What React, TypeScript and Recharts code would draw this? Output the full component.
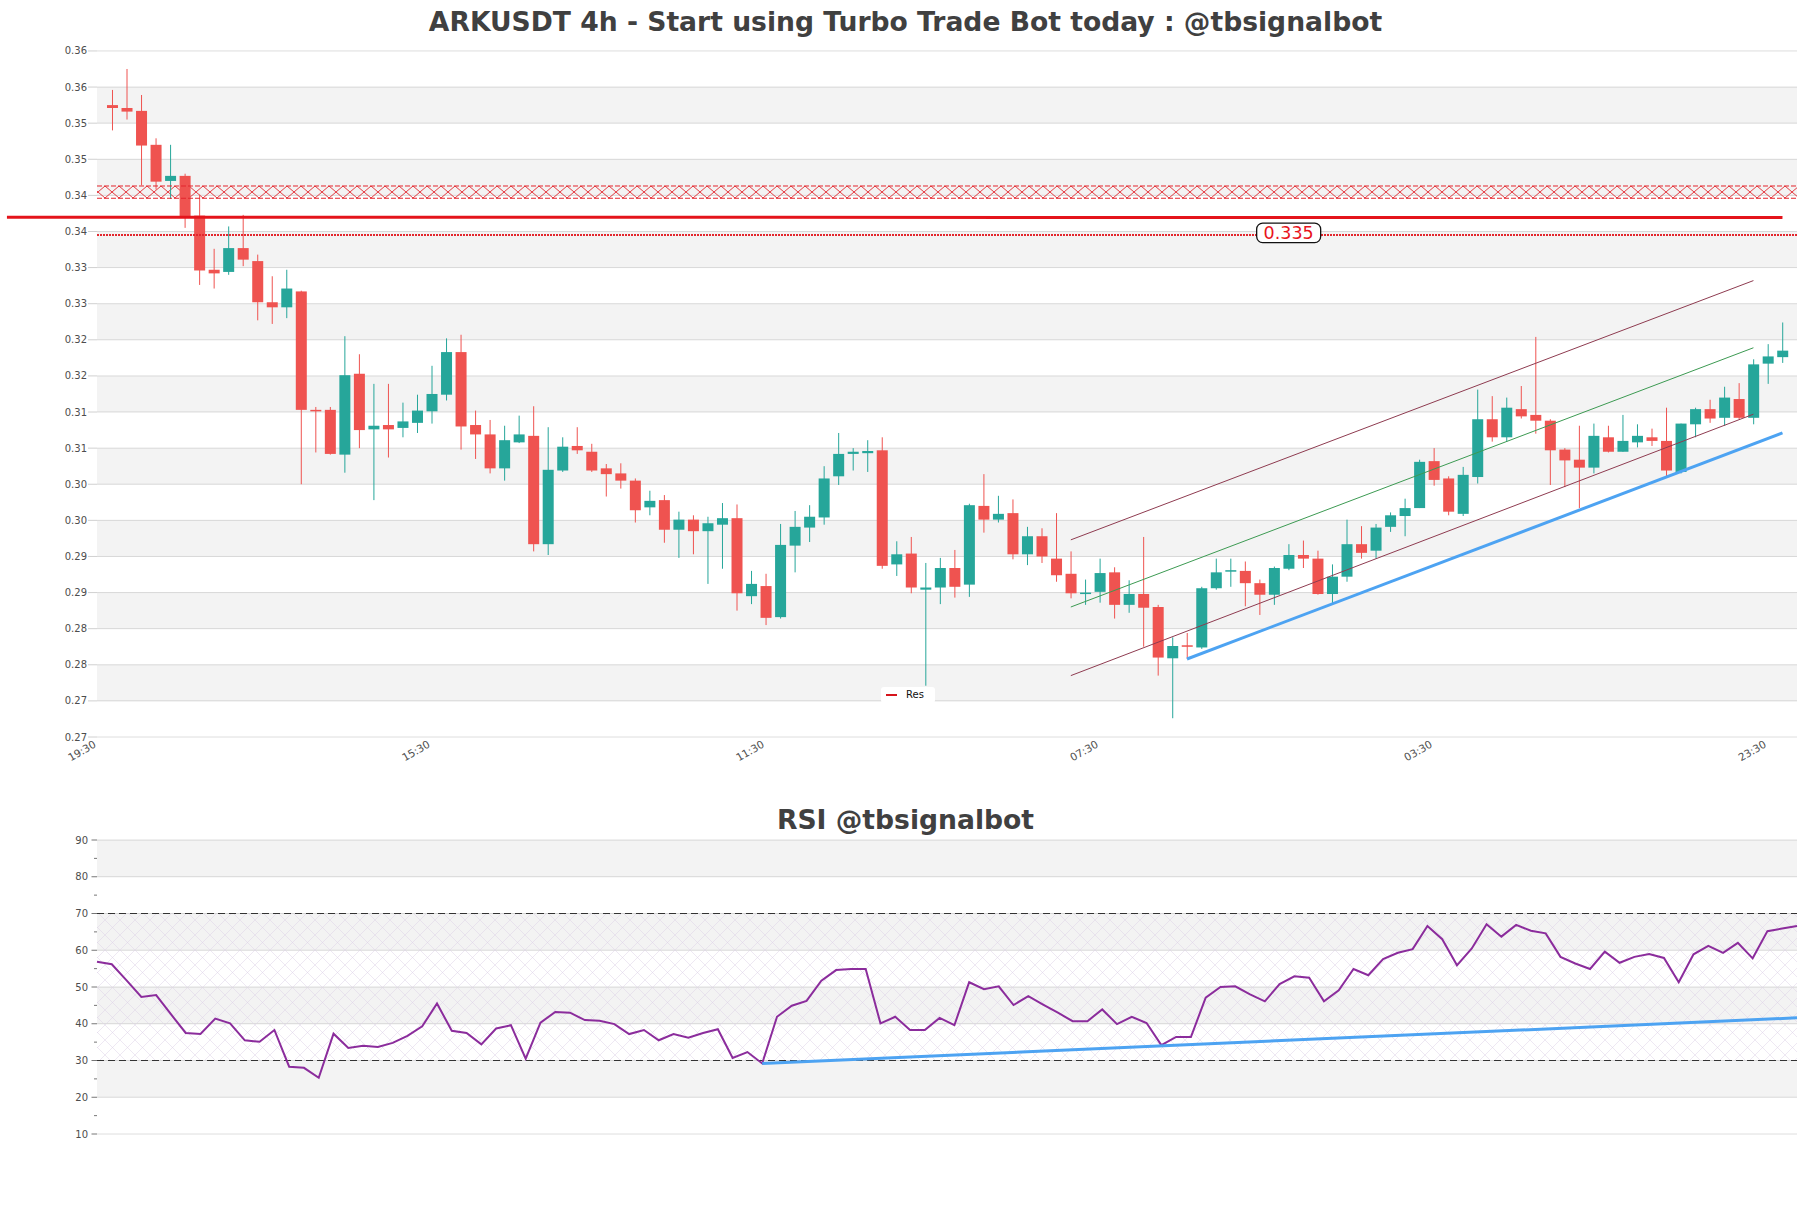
import React from 'react';
import {
  ComposedChart,
  Bar,
  Line,
  XAxis,
  YAxis,
  CartesianGrid,
  ReferenceLine,
  ReferenceArea,
  ReferenceDot,
} from 'recharts';

const FONT = '"DejaVu Sans", Verdana, sans-serif';
const UP = '#26a69a';
const DOWN = '#ef5350';

// 4h candles
const opens = [
  0.3530, 0.3526, 0.3522, 0.3475, 0.3425, 0.3432, 0.3377, 0.3302, 0.3299, 0.3332,
  0.3314, 0.3257, 0.3250, 0.3272, 0.3108, 0.3108, 0.3046, 0.3158, 0.3081, 0.3087,
  0.3083, 0.3090, 0.3106, 0.3129, 0.3188, 0.3087, 0.3074, 0.3027, 0.3063, 0.3072,
  0.2922, 0.3024, 0.3058, 0.3050, 0.3027, 0.3020, 0.3010, 0.2973, 0.2983, 0.2942,
  0.2956, 0.2940, 0.2949, 0.2958, 0.2850, 0.2864, 0.2821, 0.2920, 0.2945, 0.2959,
  0.3016, 0.3047, 0.3048, 0.3052, 0.2894, 0.2909, 0.2859, 0.2862, 0.2889, 0.2866,
  0.2975, 0.2956, 0.2965, 0.2908, 0.2933, 0.2902, 0.2881, 0.2854, 0.2856, 0.2883,
  0.2838, 0.2853, 0.2835, 0.2764, 0.2782, 0.2779, 0.2861, 0.2885, 0.2885, 0.2868,
  0.2852, 0.2888, 0.2907, 0.2902, 0.2853, 0.2877, 0.2922, 0.2913, 0.2946, 0.2961,
  0.2972, 0.3037, 0.3013, 0.2964, 0.3015, 0.3095, 0.3070, 0.3109, 0.3101, 0.3093,
  0.3053, 0.3039, 0.3028, 0.3070, 0.3050, 0.3063, 0.3070, 0.3065, 0.3022, 0.3088,
  0.3109, 0.3097, 0.3123, 0.3097, 0.3172, 0.3181,
];
const highs = [
  0.3551, 0.3580, 0.3544, 0.3484, 0.3475, 0.3435, 0.3406, 0.3331, 0.3362, 0.3378,
  0.3323, 0.3293, 0.3302, 0.3273, 0.3112, 0.3112, 0.3210, 0.3185, 0.3144, 0.3144,
  0.3118, 0.3129, 0.3169, 0.3207, 0.3212, 0.3107, 0.3094, 0.3086, 0.3100, 0.3113,
  0.3084, 0.3070, 0.3084, 0.3061, 0.3033, 0.3034, 0.3013, 0.2996, 0.2990, 0.2967,
  0.2962, 0.2960, 0.2979, 0.2977, 0.2885, 0.2881, 0.2950, 0.2968, 0.2976, 0.3030,
  0.3076, 0.3055, 0.3066, 0.3070, 0.2926, 0.2932, 0.2896, 0.2903, 0.2914, 0.2978,
  0.3019, 0.2989, 0.2984, 0.2946, 0.2944, 0.2965, 0.2912, 0.2873, 0.2902, 0.2890,
  0.2872, 0.2932, 0.2838, 0.2793, 0.2799, 0.2863, 0.2902, 0.2902, 0.2898, 0.2873,
  0.2891, 0.2922, 0.2927, 0.2913, 0.2894, 0.2956, 0.2947, 0.2950, 0.2966, 0.2985,
  0.3039, 0.3055, 0.3016, 0.3029, 0.3136, 0.3127, 0.3125, 0.3141, 0.3209, 0.3095,
  0.3055, 0.3086, 0.3089, 0.3086, 0.3101, 0.3088, 0.3082, 0.3111, 0.3089, 0.3111,
  0.3122, 0.3140, 0.3145, 0.3178, 0.3199, 0.3229,
];
const lows = [
  0.3495, 0.3510, 0.3419, 0.3413, 0.3400, 0.3360, 0.3281, 0.3276, 0.3295, 0.3307,
  0.3232, 0.3227, 0.3235, 0.3005, 0.3049, 0.3046, 0.3021, 0.3055, 0.2983, 0.3042,
  0.3070, 0.3076, 0.3089, 0.3121, 0.3053, 0.3040, 0.3020, 0.3010, 0.3062, 0.2912,
  0.2907, 0.3022, 0.3047, 0.3022, 0.2988, 0.2999, 0.2952, 0.2962, 0.2924, 0.2903,
  0.2908, 0.2867, 0.2888, 0.2830, 0.2839, 0.2810, 0.2819, 0.2883, 0.2925, 0.2949,
  0.3004, 0.3024, 0.3022, 0.2888, 0.2878, 0.2854, 0.2726, 0.2839, 0.2848, 0.2849,
  0.2938, 0.2952, 0.2901, 0.2893, 0.2896, 0.2870, 0.2847, 0.2838, 0.2841, 0.2819,
  0.2827, 0.2780, 0.2740, 0.2681, 0.2763, 0.2777, 0.2859, 0.2863, 0.2836, 0.2824,
  0.2838, 0.2886, 0.2889, 0.2852, 0.2839, 0.2870, 0.2902, 0.2902, 0.2939, 0.2933,
  0.2972, 0.3003, 0.2962, 0.2961, 0.3006, 0.3064, 0.3064, 0.3096, 0.3075, 0.3004,
  0.3001, 0.2972, 0.3020, 0.3049, 0.3050, 0.3056, 0.3058, 0.3016, 0.3020, 0.3070,
  0.3090, 0.3086, 0.3095, 0.3088, 0.3144, 0.3173,
];
const closes = [
  0.3526, 0.3521, 0.3474, 0.3424, 0.3432, 0.3376, 0.3301, 0.3297, 0.3332, 0.3316,
  0.3257, 0.3250, 0.3276, 0.3108, 0.3106, 0.3047, 0.3156, 0.3080, 0.3086, 0.3081,
  0.3092, 0.3107, 0.3130, 0.3188, 0.3085, 0.3074, 0.3027, 0.3066, 0.3074, 0.2922,
  0.3025, 0.3057, 0.3052, 0.3024, 0.3019, 0.3010, 0.2969, 0.2982, 0.2942, 0.2956,
  0.2940, 0.2951, 0.2958, 0.2854, 0.2867, 0.2820, 0.2921, 0.2946, 0.2960, 0.3013,
  0.3047, 0.3050, 0.3051, 0.2892, 0.2908, 0.2862, 0.2862, 0.2889, 0.2863, 0.2976,
  0.2956, 0.2964, 0.2908, 0.2933, 0.2905, 0.2879, 0.2854, 0.2855, 0.2882, 0.2838,
  0.2853, 0.2834, 0.2765, 0.2781, 0.2780, 0.2861, 0.2883, 0.2886, 0.2868, 0.2852,
  0.2889, 0.2907, 0.2902, 0.2853, 0.2877, 0.2922, 0.2910, 0.2945, 0.2962, 0.2972,
  0.3036, 0.3011, 0.2967, 0.3018, 0.3095, 0.3070, 0.3111, 0.3099, 0.3093, 0.3052,
  0.3038, 0.3028, 0.3072, 0.3050, 0.3065, 0.3072, 0.3065, 0.3024, 0.3089, 0.3109,
  0.3096, 0.3125, 0.3097, 0.3171, 0.3182, 0.3190,
];

const rsiValues = [
  56.9, 56.2, 51.8, 47.3, 47.8, 42.6, 37.5, 37.2, 41.4, 40.1,
  35.5, 35.1, 38.3, 28.3, 28.0, 25.3, 37.3, 33.4, 34.0, 33.7,
  34.8, 36.7, 39.3, 45.5, 38.1, 37.5, 34.4, 38.7, 39.6, 30.5,
  40.3, 43.2, 43.0, 41.0, 40.8, 39.9, 37.2, 38.3, 35.5, 37.2,
  36.2, 37.5, 38.5, 30.7, 32.3, 29.2, 41.9, 44.9, 46.2, 51.7,
  54.6, 54.9, 54.9, 40.1, 41.9, 38.3, 38.3, 41.6, 39.6, 51.3,
  49.4, 50.2, 45.1, 47.5, 45.2, 43.0, 40.7, 40.7, 43.9, 39.9,
  41.9, 40.2, 34.2, 36.4, 36.4, 47.1, 50.0, 50.2, 48.0, 46.1,
  50.8, 52.9, 52.5, 46.1, 49.1, 54.9, 53.2, 57.6, 59.3, 60.3,
  66.6, 63.0, 55.9, 60.5, 67.1, 63.7, 66.9, 65.3, 64.6, 58.2,
  56.4, 54.9, 59.6, 56.6, 58.2, 59.0, 57.9, 51.3, 58.9, 61.2,
  59.3, 62.0, 57.8, 65.2, 65.9, 66.6,
];

// axes
const priceDomain = [0.2655, 0.3616];
const priceTicks = [
  0.2655, 0.2705, 0.2755, 0.2805, 0.2855, 0.2905, 0.2955, 0.3005, 0.3055, 0.3105,
  0.3155, 0.3205, 0.3255, 0.3305, 0.3355, 0.3405, 0.3455, 0.3505, 0.3555, 0.3605,
];
const priceTickLabels = [
  '0.27', '0.27', '0.28', '0.28', '0.29', '0.29', '0.30', '0.30', '0.31', '0.31',
  '0.32', '0.32', '0.33', '0.33', '0.34', '0.34', '0.35', '0.35', '0.36', '0.36',
];
const timeDomain = [-1.05, 116];
const timeTicks = [-1, 22, 45, 68, 91, 114];
const timeTickLabels = ['19:30', '15:30', '11:30', '07:30', '03:30', '23:30'];
const rsiLabelTicks = [10, 20, 30, 40, 50, 60, 70, 80, 90];
const rsiMinorTicks = [15, 25, 35, 45, 55, 65, 75, 85];

// levels and drawn lines
const resBand = [0.3401, 0.3418];
const resLevel = [-7.25, 0.33748, 115, 0.33742];
const supportLevel = 0.335;
const tagIndex = 81;
const channelUpper = [66, 0.2928, 113, 0.3287];
const channelMid = [66, 0.2835, 113, 0.3194];
const channelLower = [66, 0.2740, 113, 0.3102];
const priceTrend = [74, 0.2763, 115, 0.3076];
const rsiBands = [30, 70];
const rsiTrend = [45, 29.2, 115, 41.6];

const candles = opens.map((open, i) => ({ i, open, high: highs[i], low: lows[i], close: closes[i] }));
const rsiData = rsiValues.map((rsi, i) => ({ i, rsi }));

const Candle = (props: any) => {
  const { x, y, width, height, payload } = props;
  if (!payload || width == null) return null;
  const { open, close, high, low } = payload;
  const color = close >= open ? UP : DOWN;
  const top = Math.min(y, y + height);
  const h = Math.abs(height);
  const span = high - low || 1e-9;
  const px = (v: number) => top + ((high - v) / span) * h;
  const cx = x + width / 2;
  const bTop = px(Math.max(open, close));
  const bBot = px(Math.min(open, close));
  return (
    <g>
      <line x1={cx} x2={cx} y1={top} y2={top + h} stroke={color} strokeWidth={1} />
      <rect x={x} y={bTop} width={width} height={Math.max(bBot - bTop, 1.5)} fill={color} />
    </g>
  );
};

const PriceTick = ({ x, y, payload }: any) => {
  const k = priceTicks.findIndex((t) => Math.abs(t - payload.value) < 1e-7);
  return (
    <text x={x} y={y} dy="0.355em" textAnchor="end" fontSize={10} fill="#4d4d4d" fontFamily={FONT}>
      {priceTickLabels[k]}
    </text>
  );
};

const TimeTick = ({ x, y, payload }: any) => {
  const k = timeTicks.indexOf(payload.value);
  const tx = x - 4;
  return (
    <text
      x={tx}
      y={y}
      dy="0.6em"
      textAnchor="end"
      transform={`rotate(-30 ${tx} ${y})`}
      fontSize={10.5}
      fill="#4d4d4d"
      fontFamily={FONT}
    >
      {timeTickLabels[k]}
    </text>
  );
};

const RsiTick = ({ x, y, payload }: any) => {
  const major = rsiLabelTicks.includes(payload.value);
  return (
    <g>
      <line x1={x + (major ? 3.5 : 6)} x2={x + 9} y1={y} y2={y} stroke="#777" strokeWidth={1} />
      {major && (
        <text x={x} y={y} dy="0.355em" textAnchor="end" fontSize={10} fill="#4d4d4d" fontFamily={FONT}>
          {payload.value}
        </text>
      )}
    </g>
  );
};

const PriceTag = ({ cx, cy }: any) => (
  <g>
    <rect x={cx - 32} y={cy - 12} width={64} height={19.5} rx={6} fill="#fff" stroke="#111" strokeWidth={1.3} />
    <text x={cx} y={cy - 2} dy="0.36em" textAnchor="middle" fontSize={17.5} fill="#e8141c" fontFamily={FONT}>
      {supportLevel.toFixed(3)}
    </text>
  </g>
);

const seg = (s: number[]) => [
  { x: s[0], y: s[1] },
  { x: s[2], y: s[3] },
];

export default function App() {
  const priceStripes = [];
  for (let k = 1; k + 1 < priceTicks.length; k += 2) priceStripes.push([priceTicks[k], priceTicks[k + 1]]);
  const rsiStripes = [];
  for (let k = 1; k + 1 < rsiLabelTicks.length; k += 2) rsiStripes.push([rsiLabelTicks[k], rsiLabelTicks[k + 1]]);
  const rsiTicks = [...rsiLabelTicks, ...rsiMinorTicks].sort((a, b) => a - b);

  return (
    <div style={{ position: 'absolute', left: 0, top: 0, width: 1811, height: 1208, background: '#fff', fontFamily: FONT }}>
      <svg width={0} height={0} style={{ position: 'absolute' }}>
        <defs>
          <pattern id="resHatch" width={14} height={12} patternUnits="userSpaceOnUse">
            <path d="M0,0 L14,12 M0,12 L14,0" stroke="#e3262d" strokeWidth={0.9} fill="none" />
          </pattern>
          <pattern id="rsiHatch" width={15} height={15} patternUnits="userSpaceOnUse">
            <path d="M0,0 L15,15 M0,15 L15,0" stroke="#ddd0e6" strokeWidth={0.5} fill="none" />
          </pattern>
        </defs>
      </svg>

      <div style={{ position: 'absolute', left: 0, top: 7, width: 1811, textAlign: 'center', fontSize: 26.6, lineHeight: '30px', fontWeight: 'bold', color: '#404040' }}>
        ARKUSDT 4h - Start using Turbo Trade Bot today : @tbsignalbot
      </div>

      <div style={{ position: 'absolute', left: 0, top: 0 }}>
        <ComposedChart width={1811} height={790} data={candles} margin={{ top: 43, right: 14, bottom: 3, left: 0 }}>
          {priceStripes.map(([a, b]) => (
            <ReferenceArea key={`s${a}`} y1={a} y2={b} fill="#000" fillOpacity={0.047} stroke="none" />
          ))}
          <CartesianGrid vertical={false} stroke="#dedede" horizontalValues={priceTicks} />
          <ReferenceArea fill="none" stroke="#d6d6d6" />
          <XAxis
            dataKey="i"
            type="number"
            domain={timeDomain}
            ticks={timeTicks}
            interval={0}
            allowDataOverflow
            tick={(p: any) => <TimeTick {...p} />}
            tickLine={false}
            tickSize={0}
            tickMargin={4}
            axisLine={false}
            height={50}
          />
          <YAxis
            type="number"
            domain={priceDomain}
            ticks={priceTicks}
            interval={0}
            allowDataOverflow
            width={97}
            tick={(p: any) => <PriceTick {...p} />}
            tickLine={{ stroke: '#d0d0d0' }}
            tickSize={9}
            tickMargin={1}
            axisLine={false}
          />
          <ReferenceArea y1={resBand[0]} y2={resBand[1]} fill="url(#resHatch)" fillOpacity={1} stroke="none" />
          <ReferenceLine y={resBand[0]} stroke="#e3262d" strokeDasharray="5 2" strokeWidth={1} />
          <ReferenceLine y={resBand[1]} stroke="#e3262d" strokeDasharray="5 2" strokeWidth={1} />
          <Bar
            dataKey={(d: any) => [d.low, d.high]}
            barSize={11}
            shape={(p: any) => <Candle {...p} />}
            isAnimationActive={false}
          />
          <ReferenceLine segment={seg(channelUpper)} stroke="#8e3b50" strokeWidth={1} />
          <ReferenceLine segment={seg(channelMid)} stroke="#3c9a52" strokeWidth={1} />
          <ReferenceLine segment={seg(channelLower)} stroke="#8e3b50" strokeWidth={1} />
          <ReferenceLine segment={seg(priceTrend)} stroke="#4da3f2" strokeWidth={3} />
          <ReferenceLine segment={seg(resLevel)} ifOverflow="visible" stroke="#e4141b" strokeWidth={3} />
          <ReferenceLine y={supportLevel} stroke="#e3262d" strokeDasharray="2 1" strokeWidth={2} />
          <ReferenceDot x={tagIndex} y={supportLevel} ifOverflow="visible" shape={(p: any) => <PriceTag {...p} />} />
        </ComposedChart>
      </div>

      <div
        style={{
          position: 'absolute',
          left: 881,
          top: 687,
          width: 54,
          height: 16,
          background: '#fff',
          borderRadius: 3,
          fontSize: 10,
          color: '#111',
          lineHeight: '16px',
        }}
      >
        <span style={{ position: 'absolute', left: 5, top: 7, width: 11, height: 2, background: '#d6141c' }} />
        <span style={{ position: 'absolute', left: 25, top: 0 }}>Res</span>
      </div>

      <div style={{ position: 'absolute', left: 0, top: 805, width: 1811, textAlign: 'center', fontSize: 26.6, lineHeight: '30px', fontWeight: 'bold', color: '#404040' }}>
        RSI @tbsignalbot
      </div>

      <div style={{ position: 'absolute', left: 0, top: 800 }}>
        <ComposedChart width={1811} height={350} data={rsiData} margin={{ top: 40, right: 14, bottom: 16, left: 0 }}>
          {rsiStripes.map(([a, b]) => (
            <ReferenceArea key={`r${a}`} y1={a} y2={b} fill="#000" fillOpacity={0.047} stroke="none" />
          ))}
          <CartesianGrid vertical={false} stroke="#dedede" horizontalValues={rsiLabelTicks} />
          <ReferenceArea y1={rsiBands[0]} y2={rsiBands[1]} fill="url(#rsiHatch)" fillOpacity={1} stroke="none" />
          <ReferenceArea fill="none" stroke="#d6d6d6" />
          <XAxis dataKey="i" type="number" domain={[0, rsiValues.length - 1]} hide />
          <YAxis
            type="number"
            domain={[10, 90]}
            ticks={rsiTicks}
            interval={0}
            width={97}
            tick={(p: any) => <RsiTick {...p} />}
            tickLine={false}
            tickSize={6}
            tickMargin={3}
            axisLine={false}
          />
          <ReferenceLine y={rsiBands[1]} stroke="#333" strokeDasharray="7 4" strokeWidth={1.2} />
          <ReferenceLine y={rsiBands[0]} stroke="#333" strokeDasharray="7 4" strokeWidth={1.2} />
          <Line type="linear" dataKey="rsi" stroke="#8b2c9c" strokeWidth={2} dot={false} isAnimationActive={false} />
          <ReferenceLine segment={seg(rsiTrend)} stroke="#4da3f2" strokeWidth={3} />
        </ComposedChart>
      </div>
    </div>
  );
}
